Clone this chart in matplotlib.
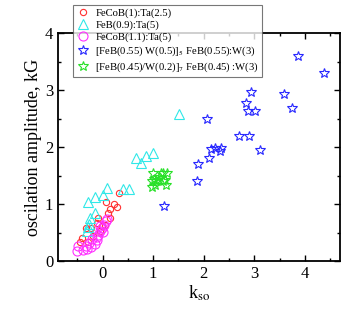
import matplotlib
matplotlib.use('Agg')
import matplotlib.pyplot as plt
from matplotlib.ticker import MultipleLocator

plt.rcParams['font.family'] = 'Liberation Serif'
plt.rcParams['mathtext.fontset'] = 'stix'

# FeCoB(1):Ta(2.5)
red_x = [0.32, 0.07, 0.23, 0.29, 0.14, 0.11, 0.14, -0.09, -0.12, -0.33, -0.22,
         -0.40, -0.18, -0.06, 0.04, -0.02, -0.45, -0.28]
red_y = [1.19, 1.03, 1.01, 0.94, 0.91, 0.85, 0.75, 0.75, 0.67, 0.58, 0.58,
         0.41, 0.44, 0.52, 0.64, 0.61, 0.34, 0.33]
# FeB(0.9):Ta(5)
cyan_x = [1.51, 1.00, 0.85, 0.67, 0.76, 0.53, 0.41, 0.08, 0.00, -0.14, -0.28,
          -0.14, -0.24, -0.26, -0.28, -0.30]
cyan_y = [2.59, 1.89, 1.85, 1.81, 1.72, 1.27, 1.27, 1.29, 1.16, 1.13, 1.04,
          0.84, 0.75, 0.65, 0.60, 0.52]
# FeCoB(1.1):Ta(5)
mag_x = [-0.51, -0.48, -0.38, -0.30, -0.26, -0.15, -0.20, -0.12, -0.09, -0.05,
         -0.02, 0.03, 0.07, 0.09, -0.22, -0.33, 0.00, -0.11, -0.05]
mag_y = [0.18, 0.26, 0.20, 0.22, 0.31, 0.30, 0.38, 0.42, 0.46, 0.53,
         0.58, 0.64, 0.71, 0.74, 0.25, 0.27, 0.51, 0.37, 0.61]
# [FeB(0.55) W(0.5)]5 FeB(0.55):W(3)
blue_x = [3.87, 4.37, 2.93, 3.59, 2.83, 3.75, 2.88, 3.01, 2.07, 2.69, 2.89,
          3.12, 2.15, 2.35, 2.32, 2.22, 2.10, 1.88, 1.86, 1.22]
blue_y = [3.60, 3.30, 2.96, 2.94, 2.78, 2.69, 2.63, 2.64, 2.49, 2.19, 2.20,
          1.95, 1.96, 1.99, 1.94, 1.98, 1.81, 1.71, 1.40, 0.97]
# [FeB(0.45)/W(0.2)]7 FeB(0.45):W(3)
green_x = [1.00, 0.97, 1.20, 1.27, 1.26, 1.06, 1.12, 1.01, 1.20, 1.03, 1.09,
           1.23, 0.98, 1.16]
green_y = [1.55, 1.30, 1.55, 1.54, 1.33, 1.40, 1.48, 1.44, 1.40, 1.34, 1.42,
           1.43, 1.40, 1.54]

fig = plt.figure(figsize=(3.54, 3.13), dpi=100)
ax = fig.add_axes([0.164, 0.166, 0.796, 0.728])

ax.plot(red_x, red_y, 'o', ms=4.5, mfc='none', mec='#ff3030', mew=0.8,
        label='FeCoB(1):Ta(2.5)')
ax.plot(cyan_x, cyan_y, '^', ms=7, mfc='none', mec='#30e8e8', mew=0.8,
        label='FeB(0.9):Ta(5)')
ax.plot(mag_x, mag_y, 'o', ms=6.5, mfc='none', mec='#ff30ff', mew=0.8,
        label='FeCoB(1.1):Ta(5)')
ax.plot(blue_x, blue_y, '*', ms=7, mfc='none', mec='#2828ff', mew=0.8,
        label='[FeB(0.55) W(0.5)]$_5$ FeB(0.55):W(3)')
ax.plot(green_x, green_y, '*', ms=7, mfc='none', mec='#28e028', mew=0.8,
        label='[FeB(0.45)/W(0.2)]$_7$ FeB(0.45) :W(3)')

ax.set_xlim(-0.88, 4.69)
ax.set_ylim(0, 4)
ax.xaxis.set_major_locator(MultipleLocator(1))
ax.xaxis.set_minor_locator(MultipleLocator(0.5))
ax.yaxis.set_major_locator(MultipleLocator(1))
ax.yaxis.set_minor_locator(MultipleLocator(0.5))
ax.tick_params(which='both', direction='in', top=True, right=True,
               labelsize=12, width=1)
ax.tick_params(which='major', length=4)
ax.tick_params(which='minor', length=2)
for s in ax.spines.values():
    s.set_linewidth(1.3)

ax.set_xlabel('k$_{\\mathrm{so}}$', fontsize=13, labelpad=1)
ax.set_ylabel('oscilation amplitude, kG', fontsize=13, labelpad=2)

leg = fig.legend(loc='upper left', bbox_to_anchor=(0.206, 0.984),
                 fontsize=7.7, frameon=True, fancybox=False, handlelength=1.2,
                 handletextpad=0.6, borderpad=0.3, labelspacing=0.22,
                 borderaxespad=0)
leg.get_frame().set_edgecolor('#555555')
leg.get_frame().set_linewidth(0.8)

fig.savefig('out.png', dpi=100)
